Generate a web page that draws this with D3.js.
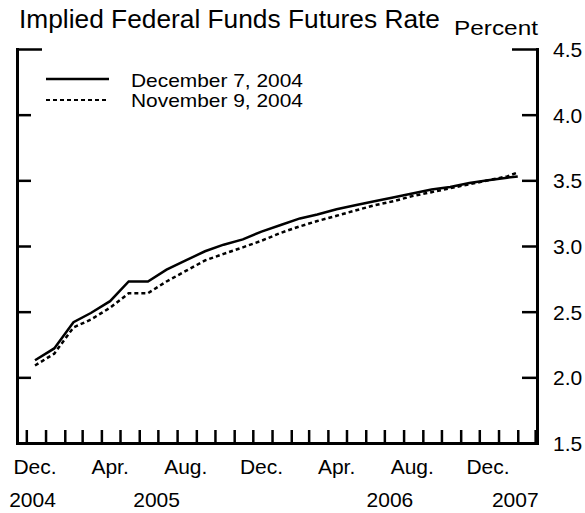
<!DOCTYPE html>
<html>
<head>
<meta charset="utf-8">
<script src="https://cdn.jsdelivr.net/npm/d3@7"></script>
<style>
  body { margin: 0; background: #fff; }
  text { font-family: "Liberation Sans", Arial, sans-serif; fill: #000; }
</style>
</head>
<body>
<div id="chart-area"></div>
<script>
// Fechas de los contratos (mitad de mes)
const dates = [
  "2004-12-15", "2005-01-15", "2005-02-15", "2005-03-15", "2005-04-15", "2005-05-15",
  "2005-06-15", "2005-07-15", "2005-08-15", "2005-09-15", "2005-10-15", "2005-11-15",
  "2005-12-15", "2006-01-15", "2006-02-15", "2006-03-15", "2006-04-15", "2006-05-15",
  "2006-06-15", "2006-07-15", "2006-08-15", "2006-09-15", "2006-10-15", "2006-11-15",
  "2006-12-15", "2007-01-15", "2007-02-01"
];

// Series
const dec7 = [
  2.13, 2.22, 2.42, 2.49, 2.58, 2.73, 2.73, 2.82, 2.89, 2.96, 3.01, 3.05,
  3.11, 3.16, 3.21, 3.24, 3.28, 3.31, 3.34, 3.37, 3.40, 3.43, 3.45, 3.48,
  3.50, 3.52, 3.53
];
const nov9 = [
  2.09, 2.18, 2.38, 2.44, 2.53, 2.64, 2.64, 2.73, 2.81, 2.89, 2.94, 2.99,
  3.04, 3.10, 3.15, 3.19, 3.23, 3.27, 3.31, 3.34, 3.38, 3.41, 3.44, 3.47,
  3.50, 3.53, 3.56
];

const seriesNames = ["December 7, 2004", "November 9, 2004"];

// Etiquetas
const yTicks = [1.5, 2.0, 2.5, 3.0, 3.5, 4.0, 4.5];
const monthLabels = [
  { date: "2004-12-15", label: "Dec." }, { date: "2005-04-15", label: "Apr." },
  { date: "2005-08-15", label: "Aug." }, { date: "2005-12-15", label: "Dec." },
  { date: "2006-04-15", label: "Apr." }, { date: "2006-08-15", label: "Aug." },
  { date: "2006-12-15", label: "Dec." }
];
const yearLabels = [
  { date: "2004-12-11", label: "2004" }, { date: "2005-06-29", label: "2005" },
  { date: "2006-07-10", label: "2006" }, { date: "2007-01-28", label: "2007" }
];

const parse = d3.timeParse("%Y-%m-%d");

const width = 585;
const height = 513;
const margin = { top: 49, right: 48, bottom: 70, left: 17 };

const svg = d3.select("#chart-area")
  .append("svg")
  .attr("width", width)
  .attr("height", height);

// Escalas
const x = d3.scaleTime()
  .domain([parse("2004-11-16"), parse("2007-03-04")])
  .range([margin.left, width - margin.right]);

const y = d3.scaleLinear()
  .domain([1.5, 4.5])
  .range([height - margin.bottom, margin.top]);

// Título
svg.append("text")
  .attr("x", 19)
  .attr("y", 28)
  .attr("font-size", "26.3px")
  .text("Implied Federal Funds Futures Rate");

svg.append("text")
  .attr("x", 454)
  .attr("y", 35)
  .attr("font-size", "21px")
  .attr("textLength", 84)
  .attr("lengthAdjust", "spacingAndGlyphs")
  .text("Percent");

// Ejes
const rightAxis = d3.axisRight(y)
  .tickValues(yTicks)
  .tickFormat(d3.format(".1f"))
  .tickSizeInner(-15)
  .tickSizeOuter(0)
  .tickPadding(16);

const gRight = svg.append("g")
  .attr("transform", `translate(${x.range()[1]}, 0)`)
  .call(rightAxis);

const leftAxis = d3.axisLeft(y)
  .tickValues(yTicks)
  .tickFormat("")
  .tickSizeInner(-14)
  .tickSizeOuter(0);

const gLeft = svg.append("g")
  .attr("transform", `translate(${x.range()[0]}, 0)`)
  .call(leftAxis);

const bottomAxis = d3.axisBottom(x)
  .ticks(d3.timeMonth.every(1))
  .tickFormat("")
  .tickSizeInner(-13)
  .tickSizeOuter(0);

const gBottom = svg.append("g")
  .attr("transform", `translate(0, ${y.range()[0]})`)
  .call(bottomAxis);

[gRight, gLeft, gBottom].forEach(g => {
  g.select(".domain").attr("stroke-width", 3).attr("stroke-linecap", "square");
  g.selectAll(".tick line").attr("stroke-width", 2.5);
  g.selectAll(".tick text")
    .attr("font-size", "21px")
    .attr("font-family", "Liberation Sans, Arial, sans-serif");
});

// Esquinas superiores más largas
gRight.selectAll(".tick").filter(d => d === 4.5).select("line").attr("x2", -25);
gLeft.selectAll(".tick").filter(d => d === 4.5).select("line").attr("x2", 25);

gRight.selectAll(".tick text").attr("dy", "0.36em");

// Etiquetas de meses y años
svg.append("g")
  .selectAll("text")
  .data(monthLabels)
  .enter()
  .append("text")
  .attr("x", d => x(parse(d.date)))
  .attr("y", 474)
  .attr("text-anchor", "middle")
  .attr("font-size", "21px")
  .text(d => d.label);

svg.append("g")
  .selectAll("text")
  .data(yearLabels)
  .enter()
  .append("text")
  .attr("x", d => x(parse(d.date)))
  .attr("y", 507)
  .attr("text-anchor", "middle")
  .attr("font-size", "21px")
  .text(d => d.label);

// Líneas
const line = d3.line()
  .x((d, i) => x(parse(dates[i])))
  .y(d => y(d));

svg.append("path")
  .datum(nov9)
  .attr("fill", "none")
  .attr("stroke", "#000")
  .attr("stroke-width", 2.5)
  .attr("stroke-dasharray", "4,3")
  .attr("d", line);

svg.append("path")
  .datum(dec7)
  .attr("fill", "none")
  .attr("stroke", "#000")
  .attr("stroke-width", 2.5)
  .attr("d", line);

// Leyenda
const legend = svg.append("g");
const dashes = [null, "4,3"];
seriesNames.forEach((name, i) => {
  legend.append("line")
    .attr("x1", 46)
    .attr("x2", 109)
    .attr("y1", 79 + i * 21)
    .attr("y2", 79 + i * 21)
    .attr("stroke", "#000")
    .attr("stroke-width", i === 0 ? 2.5 : 2)
    .attr("stroke-dasharray", dashes[i]);
  legend.append("text")
    .attr("x", 131)
    .attr("y", 86.5 + i * 20)
    .attr("font-size", "19px")
    .attr("textLength", 172)
    .attr("lengthAdjust", "spacingAndGlyphs")
    .text(name);
});
</script>
</body>
</html>
